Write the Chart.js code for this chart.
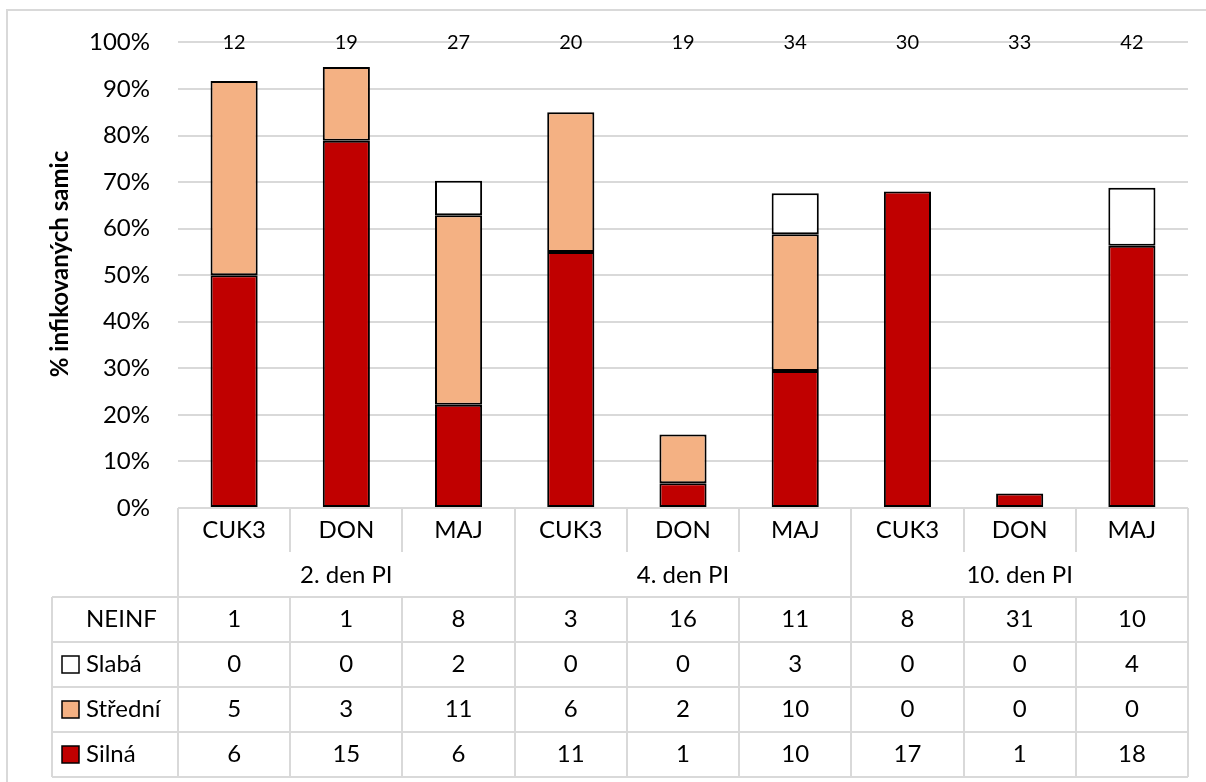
<!DOCTYPE html>
<html>
<head>
<meta charset="utf-8">
<script src="https://cdn.jsdelivr.net/npm/chart.js@4/dist/chart.umd.min.js"></script>
<style>
  html, body { margin: 0; padding: 0; background: #fff; }
  #wrap { position: relative; width: 1206px; height: 782px; }
</style>
</head>
<body>
<div id="wrap"><canvas id="c" width="1206" height="782"></canvas></div>
<script>
// ---- data ----
const categories = ['CUK3', 'DON', 'MAJ', 'CUK3', 'DON', 'MAJ', 'CUK3', 'DON', 'MAJ'];
const groups = ['2. den PI', '4. den PI', '10. den PI'];
const topLabels = ['12', '19', '27', '20', '19', '34', '30', '33', '42'];
// percentage of females per intensity (bar segments)
const pctSilna   = [50.0, 78.9, 22.2, 55.0, 5.3, 29.4, 68.0, 3.1, 56.3];
const pctStredni = [41.7, 15.8, 40.7, 30.0, 10.5, 29.4, 0, 0, 0];
const pctSlaba   = [0, 0, 7.4, 0, 0, 8.8, 0, 0, 12.5];
// counts table
const rowNames = ['NEINF', 'Slabá', 'Střední', 'Silná'];
const cntNeinf   = [1, 1, 8, 3, 16, 11, 8, 31, 10];
const cntSlaba   = [0, 0, 2, 0, 0, 3, 0, 0, 4];
const cntStredni = [5, 3, 11, 6, 2, 10, 0, 0, 0];
const cntSilna   = [6, 15, 6, 11, 1, 10, 17, 1, 18];
const yTicks = [0, 10, 20, 30, 40, 50, 60, 70, 80, 90, 100];
const yTitle = '% infikovaných samic';

const COL_SILNA = '#C00000';
const COL_STREDNI = '#F4B183';
const COL_SLABA = '#FFFFFF';
const GRID = '#D9D9D9';
const FONT = 'Lato, "Open Sans", sans-serif';

const tablePlugin = {
  id: 'tablePlugin',
  beforeDraw(chart) {
    const ctx = chart.ctx;
    ctx.save();
    ctx.fillStyle = '#fff';
    ctx.fillRect(0, 0, chart.width, chart.height);
    ctx.strokeStyle = GRID;
    ctx.lineWidth = 2;
    ctx.strokeRect(7, 10, 1400, 1000);
    ctx.restore();
  },
  afterDraw(chart) {
    const ctx = chart.ctx;
    const x = chart.scales.x;
    const ca = chart.chartArea;
    const w = x.getPixelForValue(1) - x.getPixelForValue(0);
    const left = ca.left, right = ca.right;
    const yAxis = ca.bottom;           // 0% line
    const catBottom = yAxis + 45;      // category label row
    const grpBottom = yAxis + 89;      // group label row
    const rowH = 45;
    const tableLeft = 52;
    const rows = [cntNeinf, cntSlaba, cntStredni, cntSilna];
    const keyCols = [null, COL_SLABA, COL_STREDNI, COL_SILNA];
    const tableBottom = grpBottom + rowH * rows.length;

    ctx.save();
    // top labels (sample sizes)
    ctx.fillStyle = '#000';
    ctx.textAlign = 'center';
    ctx.textBaseline = 'middle';
    ctx.font = '20px ' + FONT;
    topLabels.forEach((t, i) => ctx.fillText(t, x.getPixelForValue(i), ca.top));

    // y axis title
    ctx.save();
    ctx.translate(60, 264);
    ctx.rotate(-Math.PI / 2);
    ctx.font = 'bold 24px ' + FONT;
    ctx.fillText(yTitle, 0, 0);
    ctx.restore();

    // grid lines of the table
    ctx.strokeStyle = GRID;
    ctx.lineWidth = 2;
    ctx.beginPath();
    for (let i = 0; i <= categories.length; i++) {
      const bx = Math.round(left + i * w);
      const isGroup = (i % 3 === 0);
      ctx.moveTo(bx, yAxis);
      ctx.lineTo(bx, isGroup ? tableBottom : catBottom - 1);
      if (!isGroup) {
        ctx.moveTo(bx, grpBottom);
        ctx.lineTo(bx, tableBottom);
      }
    }
    ctx.moveTo(tableLeft, grpBottom);
    ctx.lineTo(tableLeft, tableBottom);
    for (let r = 0; r <= rows.length; r++) {
      const yy = grpBottom + r * rowH;
      ctx.moveTo(tableLeft, yy);
      ctx.lineTo(right, yy);
    }
    ctx.stroke();

    // category labels
    ctx.fillStyle = '#000';
    ctx.font = '24px ' + FONT;
    categories.forEach((c, i) => ctx.fillText(c, x.getPixelForValue(i), yAxis + 22.5));
    groups.forEach((g, gi) => {
      const cx = (x.getPixelForValue(gi * 3) + x.getPixelForValue(gi * 3 + 2)) / 2;
      ctx.fillText(g, cx, catBottom + 22);
    });

    // table rows
    rows.forEach((arr, r) => {
      const cy = grpBottom + r * rowH + rowH / 2;
      arr.forEach((v, i) => ctx.fillText(String(v), x.getPixelForValue(i), cy));
      ctx.textAlign = 'left';
      if (keyCols[r]) {
        ctx.fillStyle = keyCols[r];
        ctx.fillRect(62, cy - 8.5, 17, 17);
        ctx.strokeStyle = '#000';
        ctx.lineWidth = 1.5;
        ctx.strokeRect(62, cy - 8.5, 17, 17);
        ctx.fillStyle = '#000';
      }
      ctx.fillText(rowNames[r], 86, cy);
      ctx.textAlign = 'center';
    });
    ctx.restore();
  }
};

new Chart(document.getElementById('c'), {
  type: 'bar',
  data: {
    labels: categories,
    datasets: [
      { label: 'Silná', data: pctSilna, backgroundColor: COL_SILNA },
      { label: 'Střední', data: pctStredni, backgroundColor: COL_STREDNI },
      { label: 'Slabá', data: pctSlaba, backgroundColor: COL_SLABA }
    ].map(d => Object.assign(d, {
      borderColor: '#000', borderWidth: 2, borderSkipped: false,
      categoryPercentage: 1, barPercentage: 0.42
    }))
  },
  options: {
    responsive: false,
    animation: false,
    events: [],
    layout: { padding: { top: 42, bottom: 274, left: 0, right: 18 } },
    plugins: { legend: { display: false }, tooltip: { enabled: false } },
    scales: {
      x: { stacked: true, display: false, offset: true },
      y: {
        stacked: true,
        min: 0, max: 100,
        afterFit(s) { s.width = 178; },
        afterBuildTicks(s) { s.ticks = yTicks.map(v => ({ value: v })); },
        border: { display: false },
        grid: { color: GRID, lineWidth: 2, drawTicks: false },
        ticks: {
          padding: 28,
          color: '#000',
          font: { family: FONT, size: 24 },
          callback: v => v + '%'
        }
      }
    }
  },
  plugins: [tablePlugin]
});
</script>
</body>
</html>
